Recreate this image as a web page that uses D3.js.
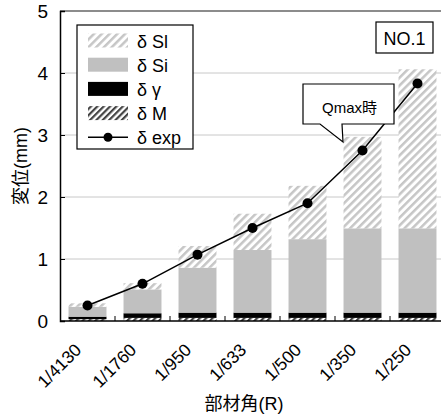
<html>
<head>
<meta charset="utf-8">
<style>
  body { margin: 0; background: #fff; }
  text { font-family: Arial, "Liberation Sans", "Noto Sans CJK JP", sans-serif; }
</style>
</head>
<body>
<script src="https://d3js.org/d3.v7.min.js"></script>
<script>
// chart data
var cats = ["1/4130", "1/1760", "1/950", "1/633", "1/500", "1/350", "1/250"];
var dM     = [0.03, 0.05, 0.05, 0.05, 0.05, 0.05, 0.05];
var dGamma = [0.04, 0.075, 0.085, 0.085, 0.085, 0.085, 0.085];
var dSi    = [0.16, 0.385, 0.725, 1.01, 1.185, 1.36, 1.36];
var dSl    = [0.055, 0.10, 0.35, 0.585, 0.86, 1.475, 2.565];
var dExp   = [0.25, 0.60, 1.07, 1.50, 1.90, 2.75, 3.83];
var yTicks = [0, 1, 2, 3, 4, 5];

var W = 441, H = 417;
var margin = {top: 11, left: 60},
    plotW = 385, plotH = 310;

var svg = d3.select("body").append("svg")
    .attr("width", W).attr("height", H);

var defs = svg.append("defs");
function hatch(id, color, sw, size) {
  var p = defs.append("pattern")
      .attr("id", id)
      .attr("patternUnits", "userSpaceOnUse")
      .attr("width", size).attr("height", size)
      .attr("patternTransform", "rotate(45)");
  p.append("rect").attr("width", size).attr("height", size).attr("fill", "#fff");
  p.append("rect").attr("width", sw).attr("height", size).attr("fill", color);
}
hatch("hSl", "#c6c6c6", 2.5, 5.5);
hatch("hM", "#444", 2.2, 4.5);

var g = svg.append("g").attr("transform", "translate(" + margin.left + "," + margin.top + ")");

var x = d3.scaleBand().domain(cats).range([0, plotW]).paddingInner(0.31).paddingOuter(0.155);
var y = d3.scaleLinear().domain([0, 5]).range([plotH, 0]);

// gridlines
g.append("g").selectAll("line")
  .data(yTicks.filter(function(d) { return d > 0 && d < 5; }))
  .enter().append("line")
    .attr("x1", 0).attr("x2", plotW)
    .attr("y1", function(d) { return y(d); })
    .attr("y2", function(d) { return y(d); })
    .attr("stroke", "#c8c8c8").attr("stroke-width", 1);

// top border of plot
g.append("line").attr("x1", 0).attr("x2", plotW).attr("y1", 0).attr("y2", 0)
  .attr("stroke", "#666").attr("stroke-width", 1.5);

// stacked bars
var keys = ["M", "G", "Si", "Sl"];
var fills = {M: "url(#hM)", G: "#000", Si: "#c0c0c0", Sl: "url(#hSl)"};
var rows = cats.map(function(c, i) {
  return {cat: c, M: dM[i], G: dGamma[i], Si: dSi[i], Sl: dSl[i]};
});
var stack = d3.stack().keys(keys)(rows);

g.append("g").selectAll("g")
  .data(stack)
  .enter().append("g")
    .attr("fill", function(d) { return fills[d.key]; })
  .selectAll("rect")
  .data(function(d) { return d; })
  .enter().append("rect")
    .attr("x", function(d) { return x(d.data.cat); })
    .attr("y", function(d) { return y(d[1]); })
    .attr("width", x.bandwidth())
    .attr("height", function(d) { return y(d[0]) - y(d[1]); });

// axes
var yAxis = g.append("g")
  .call(d3.axisLeft(y).tickValues(yTicks).tickSize(-5).tickPadding(12).tickFormat(d3.format("d")));
yAxis.select(".domain").attr("stroke", "#000").attr("stroke-width", 1.5);
yAxis.selectAll("text").attr("font-size", 19).attr("fill", "#000");
yAxis.selectAll(".tick line").attr("stroke", "#000");

var step = x.step();
var xb = g.append("g").attr("transform", "translate(0," + plotH + ")");
xb.append("line").attr("x1", 0).attr("x2", plotW).attr("stroke", "#000").attr("stroke-width", 1.5);
xb.selectAll(".xt")
  .data(cats.slice(1))
  .enter().append("line")
    .attr("x1", function(d) { return x(d) - step * 0.155; })
    .attr("x2", function(d) { return x(d) - step * 0.155; })
    .attr("y1", 0).attr("y2", -5)
    .attr("stroke", "#000");
xb.selectAll(".xl")
  .data(cats)
  .enter().append("text")
    .attr("transform", function(d) {
      return "translate(" + (x(d) + x.bandwidth() / 2 - 5) + ",30) rotate(-45)";
    })
    .attr("text-anchor", "end")
    .attr("font-size", 17.5)
    .attr("fill", "#000")
    .text(function(d) { return d; });

// exp line
var line = d3.line()
  .x(function(d, i) { return x(cats[i]) + x.bandwidth() / 2; })
  .y(function(d) { return y(d); });

// callout Qmax
var cb = {x0: 303, y0: 84, x1: 394, y1: 124, p0: 320, p1: 342, tipX: 343, tipY: 142};
svg.append("path")
  .attr("d", "M" + cb.x0 + "," + cb.y0 + "H" + cb.x1 + "V" + cb.y1 + "H" + cb.p1 +
       "L" + cb.tipX + "," + cb.tipY + "L" + cb.p0 + "," + cb.y1 + "H" + cb.x0 + "Z")
  .attr("fill", "#fff").attr("stroke", "#000").attr("stroke-width", 1.2);
svg.append("text").attr("x", 322).attr("y", 113)
  .attr("font-size", 15).attr("fill", "#000").text("Qmax時");

g.append("path").datum(dExp)
  .attr("d", line).attr("fill", "none").attr("stroke", "#000").attr("stroke-width", 1.5);
g.append("g").selectAll("circle")
  .data(dExp)
  .enter().append("circle")
    .attr("cx", function(d, i) { return x(cats[i]) + x.bandwidth() / 2; })
    .attr("cy", function(d) { return y(d); })
    .attr("r", 5).attr("fill", "#000");

// NO.1 box
svg.append("rect").attr("x", 376).attr("y", 22).attr("width", 57).attr("height", 31)
  .attr("fill", "#fff").attr("stroke", "#000").attr("stroke-width", 1.2);
svg.append("text").attr("x", 404.5).attr("y", 44.5).attr("text-anchor", "middle")
  .attr("font-size", 18).attr("fill", "#000").text("NO.1");

// legend
var legItems = [
  {label: "δ Sl", fill: "url(#hSl)"},
  {label: "δ Si", fill: "#c0c0c0"},
  {label: "δ γ", fill: "#000"},
  {label: "δ M", fill: "url(#hM)"},
  {label: "δ exp", line: true}
];
var leg = svg.append("g");
leg.append("rect").attr("x", 77).attr("y", 25).attr("width", 116).attr("height", 124)
  .attr("fill", "#fff").attr("stroke", "#000").attr("stroke-width", 1.2);
var li = leg.selectAll(".li").data(legItems).enter().append("g")
  .attr("transform", function(d, i) { return "translate(0," + (40.5 + i * 24.2) + ")"; });
li.filter(function(d) { return !d.line; }).append("rect")
  .attr("x", 88).attr("y", -7).attr("width", 40).attr("height", 14)
  .attr("fill", function(d) { return d.fill; });
li.filter(function(d) { return d.line; }).append("line")
  .attr("x1", 88).attr("x2", 128).attr("stroke", "#000").attr("stroke-width", 1.5);
li.filter(function(d) { return d.line; }).append("circle")
  .attr("cx", 108).attr("r", 4.5).attr("fill", "#000");
li.append("text").attr("x", 137).attr("y", 7)
  .attr("font-size", 18).attr("fill", "#000")
  .text(function(d) { return d.label; });

// axis titles
svg.append("text").attr("x", 244).attr("y", 410).attr("text-anchor", "middle")
  .attr("font-size", 18).attr("fill", "#000").text("部材角(R)");
svg.append("text").attr("transform", "translate(27,166) rotate(-90)")
  .attr("text-anchor", "middle")
  .attr("font-size", 18).attr("fill", "#000").text("変位(mm)");
</script>
</body>
</html>
